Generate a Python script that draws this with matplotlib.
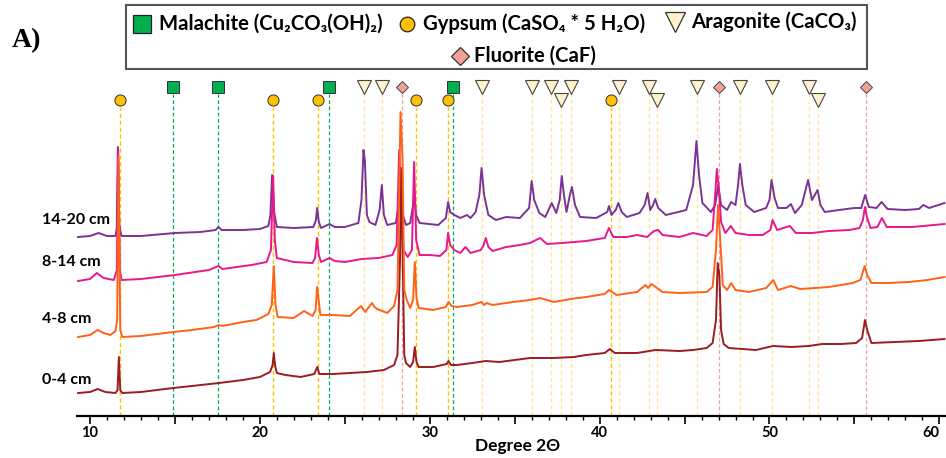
import matplotlib
matplotlib.use('Agg')
import matplotlib.pyplot as plt
from matplotlib.lines import Line2D
from matplotlib.patches import Rectangle
from matplotlib.ticker import FixedLocator, MultipleLocator, FuncFormatter

# ---------------- data ----------------
depth_labels = ['0-4 cm', '4-8 cm', '8-14 cm', '14-20 cm']
series_colors = ['#9b1c22', '#ff6216', '#e6188c', '#7a3396']
stack_offsets = [19, 74, 129, 174]

# (2theta, intensity a.u.)
xrd_0_4 = [(9.3,4),(10.0,5),(10.45,8),(10.9,5),(11.5,4),(11.62,7),(11.7,40),(11.78,7),(11.9,4),(13.0,5),
           (14.9,9),(16.0,11),(17.6,14),(19.0,17),(20.0,20),(20.6,25),(20.75,32),(20.82,44),(20.9,31),(21.0,24),
           (21.5,22),(22.4,20),(23.2,23),(23.38,30),(23.5,23),(24.3,23),(25.3,24),(26.3,25),(27.3,27),(27.9,32),
           (28.1,42),(28.25,137),(28.32,229),(28.4,147),(28.5,42),(28.6,34),(28.85,30),(29.02,35),(29.12,50),(29.22,35),
           (29.35,30),(30.2,30),(31.0,33),(31.1,36),(31.25,32),(31.6,32),(32.5,34),(33.3,36),(34.1,35),(35.0,37),
           (35.9,39),(37.3,39),(38.5,40),(39.2,42),(40.3,44),(40.6,48),(40.9,44),(42.2,44),(43.3,47),(44.7,46),
           (45.5,47),(46.3,49),(46.65,54),(46.85,77),(46.95,134),(47.05,122),(47.15,67),(47.3,53),(47.6,49),(49.2,47),
           (50.2,51),(51.3,50),(52.3,51),(53.1,53),(54.2,53),(55.1,54),(55.45,59),(55.62,77),(55.75,67),(56.0,54),
           (57.4,55),(58.8,56),(60.3,58)]

xrd_4_8 = [(9.3,5),(10.0,7),(10.45,12),(10.8,9),(11.2,7),(11.5,11),(11.6,22),(11.68,185),(11.78,12),(11.9,5),
           (13.0,6),(14.9,10),(16.0,12),(17.3,15),(17.58,17),(17.8,16),(19.0,20),(19.8,22),(20.5,28),(20.7,37),
           (20.82,76),(20.92,37),(21.05,25),(22.0,24),(22.6,31),(22.8,29),(23.1,26),(23.28,32),(23.37,55),(23.46,42),
           (23.56,27),(24.3,27),(25.3,26),(25.95,36),(26.2,30),(26.6,39),(26.75,35),(26.9,33),(27.5,29),(27.9,36),
           (28.1,52),(28.28,230),(28.4,182),(28.5,52),(28.65,42),(28.85,34),(29.02,42),(29.12,80),(29.22,44),(29.35,34),
           (30.2,32),(30.95,35),(31.1,40),(31.3,36),(31.6,35),(32.5,37),(33.05,40),(33.2,37),(33.35,39),(33.7,37),
           (34.9,40),(35.9,42),(36.5,44),(37.3,40),(38.3,43),(39.2,45),(40.3,48),(40.55,52),(41.0,47),(42.2,50),
           (42.7,57),(42.85,54),(43.05,58),(43.3,55),(43.7,50),(44.7,49),(46.3,50),(46.65,55),(46.85,92),(46.97,137),
           (47.1,102),(47.25,57),(47.5,52),(47.75,59),(48.0,52),(48.8,50),(49.8,54),(50.22,62),(50.5,52),(51.26,56),
           (51.8,53),(53.5,55),(54.9,59),(55.35,62),(55.6,76),(55.75,67),(56.0,59),(57.0,59),(58.2,60),(59.3,62),
           (60.3,65)]

xrd_8_14 = [(9.3,6),(10.0,8),(10.4,14),(10.8,9),(11.4,7),(11.58,17),(11.66,137),(11.76,17),(11.85,7),(13.0,8),
            (15.0,12),(17.0,17),(17.56,21),(17.8,18),(19.5,22),(20.4,25),(20.65,37),(20.78,111),(20.88,47),(21.0,29),
            (22.0,25),(23.1,24),(23.25,29),(23.36,49),(23.47,32),(23.6,25),(24.1,29),(24.4,26),(25.0,25),(26.0,28),
            (27.0,29),(27.8,32),(28.05,42),(28.2,137),(28.32,87),(28.45,37),(28.7,30),(28.95,37),(29.08,125),(29.2,47),
            (29.4,32),(30.0,32),(30.6,31),(30.98,37),(31.08,54),(31.2,42),(31.45,37),(31.8,34),(32.1,40),(32.4,34),
            (33.0,37),(33.15,41),(33.3,49),(33.45,40),(33.7,36),(34.5,40),(35.3,42),(35.9,44),(36.5,49),(36.9,43),
            (37.8,44),(39.2,46),(40.3,49),(40.55,59),(40.8,50),(41.6,50),(42.2,52),(42.8,50),(43.2,56),(43.45,57),
            (43.7,52),(44.7,50),(45.5,54),(46.3,51),(46.65,57),(46.82,97),(46.9,118),(47.0,102),(47.15,65),(47.4,54),
            (47.72,61),(48.0,54),(48.8,52),(49.6,52),(50.05,57),(50.18,67),(50.45,57),(51.2,61),(51.55,54),(52.5,54),
            (53.5,56),(54.7,57),(55.3,59),(55.5,67),(55.62,80),(55.75,69),(55.95,59),(56.35,60),(56.62,69),(56.9,60),
            (58.4,60),(60.3,63)]

xrd_14_20 = [(9.3,5),(10.0,6),(10.5,9),(11.0,6),(11.5,6),(11.58,14),(11.64,95),(11.72,17),(11.85,6),(13.0,6),
             (15.0,9),(16.5,10),(17.4,12),(17.56,15),(17.75,12),(19.0,12),(20.0,13),(20.5,16),(20.62,27),(20.72,67),
             (20.84,30),(21.0,15),(22.0,14),(23.15,15),(23.3,22),(23.37,34),(23.47,20),(23.6,14),(24.1,18),(24.4,15),
             (25.0,15),(25.8,19),(25.98,42),(26.1,92),(26.18,82),(26.3,27),(26.45,20),(26.8,17),(27.05,32),(27.18,57),
             (27.3,27),(27.5,17),(28.0,19),(28.18,37),(28.3,70),(28.42,27),(28.6,17),(28.85,19),(29.02,37),(29.08,47),
             (29.2,27),(29.4,19),(30.5,17),(30.95,24),(31.08,40),(31.2,30),(31.45,27),(31.8,24),(32.2,27),(32.4,24),
             (32.7,30),(32.92,47),(33.05,74),(33.2,47),(33.45,27),(33.9,22),(34.5,25),(35.3,24),(35.85,34),(36.0,61),
             (36.15,42),(36.45,29),(36.8,25),(37.18,39),(37.45,29),(37.65,42),(37.77,66),(37.9,47),(38.05,30),(38.25,47),
             (38.37,55),(38.55,37),(38.85,25),(39.8,24),(40.45,30),(40.55,36),(40.7,27),(40.95,32),(41.1,39),(41.3,30),
             (41.6,25),(42.35,29),(42.65,37),(42.82,49),(42.98,32),(43.15,37),(43.27,43),(43.45,34),(43.9,27),(45.1,32),
             (45.5,57),(45.7,101),(45.85,67),(46.05,39),(46.55,30),(46.8,37),(46.98,57),(47.15,37),(47.5,32),(47.74,40),
             (48.0,37),(48.15,57),(48.26,78),(48.4,57),(48.6,37),(49.1,30),(49.8,34),(50.0,42),(50.12,62),(50.3,44),
             (50.5,34),(51.0,34),(51.26,38),(51.5,29),(51.9,37),(52.27,62),(52.5,42),(52.83,52),(53.0,37),(53.25,30),
             (54.1,32),(55.0,34),(55.4,34),(55.63,47),(55.85,35),(56.3,34),(56.6,40),(56.95,33),(58.0,32),(58.8,33),
             (59.05,37),(59.4,34),(60.3,39)]

xrd_series = [xrd_0_4, xrd_4_8, xrd_8_14, xrd_14_20]

# reference phase positions (2theta)
malachite_pos = [14.89, 17.56, 24.08, 31.35]
gypsum_pos = [11.76, 20.77, 23.41, 29.19, 31.09, 40.65]
aragonite_pos = [26.12, 27.19, 33.05, 36.02, 37.14, 37.75, 38.34, 41.13, 42.88, 43.35, 45.72,
                 48.27, 50.15, 52.3, 52.83]
aragonite_lower = [False, False, False, False, False, True, False, False, False, True, False,
                   False, False, False, True]
fluorite_pos = [28.35, 47.0, 55.7]

legend_labels = ['Malachite (Cu\u2082CO\u2083(OH)\u2082)', 'Gypsum (CaSO\u2084 * 5 H\u2082O)',
                 'Aragonite (CaCO\u2083)', 'Fluorite (CaF)']
x_label = 'Degree 2\u0398'
panel_label = 'A)'
tick_values = [10, 15, 20, 25, 30, 35, 40, 45, 50, 55, 60]

# ---------------- styling ----------------
W, H = 946, 458
FONT = ['Lato', 'DejaVu Sans']
plt.rcParams['font.family'] = FONT

fig = plt.figure(figsize=(W / 100, H / 100), dpi=100)


def fx(px):
    return px / W


def fy(py):
    return 1 - py / H


AX_L, AX_R, AX_B, AX_T = 77, 946, 416, 60
ax = fig.add_axes([fx(AX_L), fy(AX_B), fx(AX_R - AX_L), (AX_B - AX_T) / H])
ax.set_xlim(9.235, 60.39)
ax.set_ylim(0, AX_B - AX_T)

# phase reference lines and markers
UPPER, LOWER = AX_B - 87, AX_B - 100
mal_col, gyp_col, ara_col, flu_col = '#00b050', '#ffc000', '#ffe699', '#f4a09a'
dash = (0, (3, 2))

for p in malachite_pos:
    ax.plot([p, p], [0, UPPER - 7], color=mal_col, lw=0.9, ls=dash, zorder=1)
    ax.plot(p, UPPER, marker='s', ms=8, mfc=mal_col, mec='#333333', mew=0.7, zorder=6, clip_on=False)
for p in gypsum_pos:
    ax.plot([p, p], [0, LOWER - 7], color=gyp_col, lw=1.0, ls=dash, zorder=1)
    ax.plot(p, LOWER, marker='o', ms=8, mfc=gyp_col, mec='#333333', mew=0.7, zorder=6, clip_on=False)
for p, low in zip(aragonite_pos, aragonite_lower):
    yy = LOWER if low else UPPER
    ax.plot([p, p], [0, yy - 7], color=ara_col, lw=1.0, ls=dash, zorder=1)
    ax.plot(p, yy, marker='v', ms=10, mfc='#fff2cc', mec='#444444', mew=0.8, zorder=6, clip_on=False)
for p in fluorite_pos:
    ax.plot([p, p], [0, UPPER - 6], color=flu_col, lw=0.9, ls=dash, zorder=1)
    ax.plot(p, UPPER, marker='D', ms=6, mfc=flu_col, mec='#444444', mew=0.7, zorder=6, clip_on=False)

# spectra
zorders = [5, 5.5, 4, 3]
for data, off, col, z in zip(xrd_series, stack_offsets, series_colors, zorders):
    xs = [d[0] for d in data]
    ys = [d[1] + off for d in data]
    ax.plot(xs, ys, color=col, lw=1.4, zorder=z, solid_joinstyle='round')

# axes styling
for s in ['left', 'right', 'top']:
    ax.spines[s].set_visible(False)
ax.spines['bottom'].set_linewidth(1.6)
ax.set_yticks([])
ax.xaxis.set_major_locator(FixedLocator(tick_values))
ax.xaxis.set_minor_locator(MultipleLocator(1))
ax.xaxis.set_major_formatter(FuncFormatter(lambda v, p: f'{int(round(v))}' if round(v) % 10 == 0 else ''))
ax.tick_params(axis='x', which='major', length=6, width=1.2, direction='out', pad=1.5,
               labelsize=10.5)
ax.tick_params(axis='x', which='minor', length=3, width=1.0, direction='out')
fig.canvas.draw()
for lab in ax.get_xticklabels():
    lab.set_fontweight('bold')
    if lab.get_text() == '60':
        lab.set_horizontalalignment('right')
fig.text(fx(518), fy(446), x_label, fontsize=12.5, fontweight='bold', ha='center', va='center')

# depth labels
label_y = [380, 319, 262, 220]
for lab, yy in zip(depth_labels, label_y):
    fig.text(fx(42), fy(yy), lab, fontsize=11.5, fontweight='bold', ha='left', va='center')

# panel label
fig.text(fx(12), fy(41), panel_label, fontsize=20, fontweight='bold', ha='left', va='center',
         family=['Liberation Serif', 'DejaVu Serif'])

# legend box
fig.add_artist(Rectangle((fx(126), fy(69)), fx(867 - 126), (69 - 5) / H, transform=fig.transFigure,
                         fill=False, edgecolor='#555555', lw=1.5))
leg_items = [
    (142, 23.5, 's', 13, mal_col, '#222222', 159, legend_labels[0]),
    (407, 23.5, 'o', 10.5, gyp_col, '#222222', 423, legend_labels[1]),
    (675, 22, 'v', 14, '#fff2cc', '#333333', 691, legend_labels[2]),
    (460, 56, 'D', 9, flu_col, '#333333', 474, legend_labels[3]),
]
for mx, my, mk, ms, fc, ec, tx, txt in leg_items:
    fig.add_artist(Line2D([fx(mx)], [fy(my)], transform=fig.transFigure, marker=mk, ms=ms,
                          mfc=fc, mec=ec, mew=0.9, ls='none'))
    fig.text(fx(tx), fy(my), txt, fontsize=14.6, fontweight='bold', ha='left', va='center')

fig.savefig('out.png', dpi=100)
